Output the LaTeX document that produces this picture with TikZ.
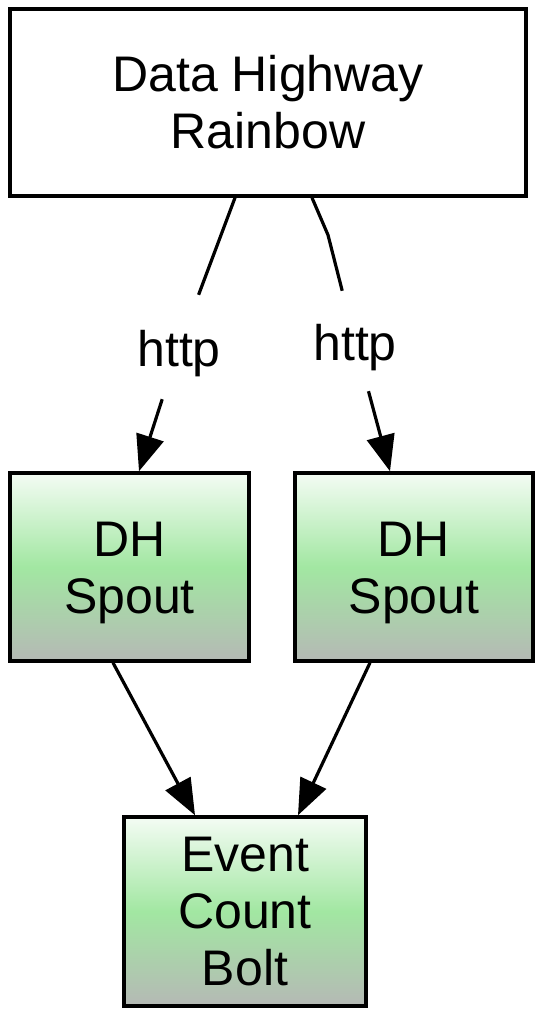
\documentclass[tikz,border=0pt]{standalone}
\usepackage{fontspec}
\setmainfont{Liberation Sans}
\usetikzlibrary{arrows.meta}
\definecolor{gtop}{HTML}{F4FCF4}
\definecolor{gmid}{HTML}{A2E7A2}
\definecolor{gbot}{HTML}{B5B9B5}
\newcommand{\lowerstrut}[1]{\rule{0pt}{#1}}
\tikzset{
  box/.style={draw=black, line width=3.5pt, rectangle, inner sep=0pt, align=center,
    font=\fontsize{50}{57}\selectfont},
  greenbox/.style={box, top color=gtop, bottom color=gbot, middle color=gmid},
  lab/.style={inner sep=0pt, minimum width=80pt, font=\fontsize{50}{57}\selectfont},
  conn/.style={line width=3.2pt},
  arr/.style={conn, -{Triangle[length=36pt,width=28pt]}},
}
\begin{document}
\begin{tikzpicture}[x=1pt,y=-1pt]
\useasboundingbox (0,0) rectangle (541,1016);
\node[box, minimum width=516pt, minimum height=187pt] (top) at (268,102.5) {Data Highway\\Rainbow};
\node[greenbox, minimum width=239pt, minimum height=188pt] (s1) at (129.5,567) {\lowerstrut{47pt}DH\\Spout};
\node[greenbox, minimum width=238pt, minimum height=188pt] (s2) at (414,567) {\lowerstrut{47pt}DH\\Spout};
\node[greenbox, minimum width=242pt, minimum height=189pt] (bolt) at (245,911.5) {Event\\Count\\Bolt};
\node[lab, minimum height=104pt] (l1) at (179,347) {\lowerstrut{49pt}http};
\node[lab, minimum height=100pt] (l2) at (355,341) {\lowerstrut{49pt}http};
\coordinate (bend) at (328,235);
\draw[conn] ([xshift=-33pt]top.south) -- (l1);
\draw[arr] (l1) -- ([xshift=9.5pt]s1.north);
\draw[conn] ([xshift=44pt]top.south) -- (bend) -- (l2);
\draw[arr] (l2) -- ([xshift=-24pt]s2.north);
\draw[arr] ([xshift=-16.5pt]s1.south) -- ([xshift=-50pt]bolt.north);
\draw[arr] ([xshift=-44pt]s2.south) -- ([xshift=53pt]bolt.north);
\end{tikzpicture}
\end{document}
